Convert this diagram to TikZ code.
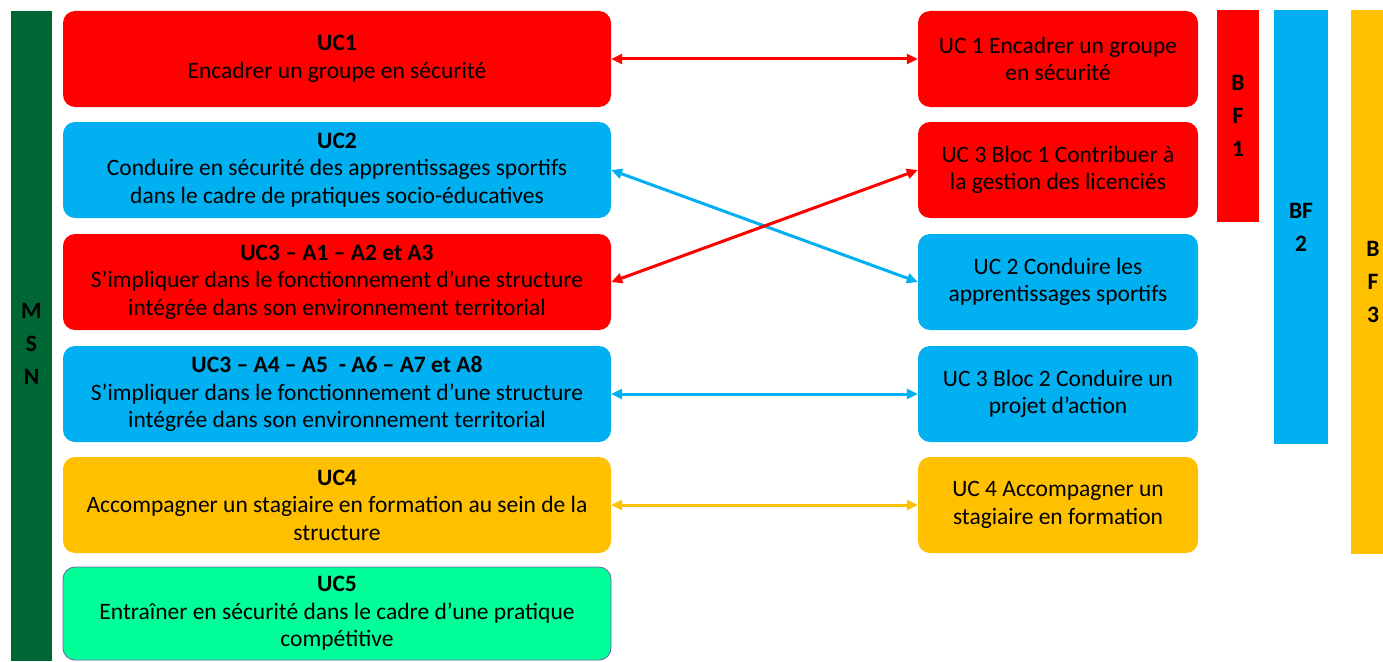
\documentclass[tikz,border=0pt]{standalone}
\usepackage{fontspec}
\setmainfont{Carlito}
\usepackage{xcolor}
\usepackage{tikz}
\usetikzlibrary{arrows.meta}
\definecolor{ucred}{HTML}{FF0000}
\definecolor{ucblue}{HTML}{00B0F0}
\definecolor{ucyellow}{HTML}{FFC000}
\definecolor{ucgreen}{HTML}{00FF99}
\definecolor{msngreen}{HTML}{006633}

\begin{document}
\begin{tikzpicture}[x=1pt,y=-1pt]
      \tikzset{box/.style={rectangle,rounded corners=12pt,align=center,inner sep=0pt,
        minimum height=96pt,font=\fontsize{23.5}{27.5}\selectfont,
        execute at begin node={\rule{0pt}{26pt}}}}
      \tikzset{lbox/.style={box,minimum width=548pt}}
      \tikzset{rbox/.style={box,minimum width=280pt}}
      \tikzset{rouge/.style={fill=ucred}}
      \tikzset{bleu/.style={fill=ucblue}}
      \tikzset{jaune/.style={fill=ucyellow}}
      \tikzset{vert/.style={fill=ucgreen,draw=black!60!blue!60,line width=0.8pt}}
      \tikzset{bar/.style={rectangle,inner sep=0pt,align=center,
        font=\fontsize{23.5}{33}\selectfont\bfseries}}
      \tikzset{link/.style={{Triangle[length=11pt,width=10pt]}-{Triangle[length=11pt,width=10pt]},
        line width=3pt}}

      \useasboundingbox (0,0) rectangle (1383,661);

      % colonne MSN
      \node[bar,fill=msngreen,minimum width=41pt,minimum height=650pt] (msn) at (31.5,336) {\rule{0pt}{31pt}M\\S\\N};

      % UC du MSN
      \node[lbox,rouge] (uc1) at (337,59) {\textbf{UC1}\\Encadrer un groupe en sécurité};
      \node[lbox,bleu] (uc2) at (337,170) {\textbf{UC2}\\Conduire en sécurité des apprentissages sportifs\\dans le cadre de pratiques socio-éducatives};
      \node[lbox,rouge] (uc3a) at (337,282) {\textbf{UC3 – A1 – A2 et A3}\\S’impliquer dans le fonctionnement d’une structure\\intégrée dans son environnement territorial};
      \node[lbox,bleu] (uc3b) at (337,394) {\textbf{UC3 – A4 – A5 \ - A6 – A7 et A8}\\S’impliquer dans le fonctionnement d’une structure\\intégrée dans son environnement territorial};
      \node[lbox,jaune] (uc4) at (337,505) {\textbf{UC4}\\Accompagner un stagiaire en formation au sein de la\\structure};
      \node[lbox,vert,minimum height=93pt] (uc5) at (337,613.5) {\textbf{UC5}\\Entraîner en sécurité dans le cadre d’une pratique\\compétitive};

      % UC des BF
      \node[rbox,rouge] (bf1a) at (1058,59) {UC 1 Encadrer un groupe\\en sécurité};
      \node[rbox,rouge] (bf1b) at (1058,170) {UC 3 Bloc 1 Contribuer à\\la gestion des licenciés};
      \node[rbox,bleu] (bf2a) at (1058,282) {UC 2 Conduire les\\apprentissages sportifs};
      \node[rbox,bleu] (bf2b) at (1058,394) {UC 3 Bloc 2 Conduire un\\projet d’action};
      \node[rbox,jaune] (bf3a) at (1058,505) {UC 4 Accompagner un\\stagiaire en formation};

      % colonnes BF
      \node[bar,fill=ucred,minimum width=42pt,minimum height=212pt] (bf1) at (1238,116) {B\\F\\1};
      \node[bar,fill=ucblue,minimum width=54pt,minimum height=434pt] (bf2) at (1301,227) {BF\\2};
      \node[bar,fill=ucyellow,minimum width=44pt,minimum height=544pt] (bf3) at (1373,282) {B\\F\\3};

      % correspondances
      \draw[link,ucred] (uc1.east) -- (bf1a.west);
      \draw[link,ucblue] (uc2.east) -- (bf2a.west);
      \draw[link,ucred] (uc3a.east) -- (bf1b.west);
      \draw[link,ucblue] (uc3b.east) -- (bf2b.west);
      \draw[link,ucyellow] (uc4.east) -- (bf3a.west);
\end{tikzpicture}
\end{document}
